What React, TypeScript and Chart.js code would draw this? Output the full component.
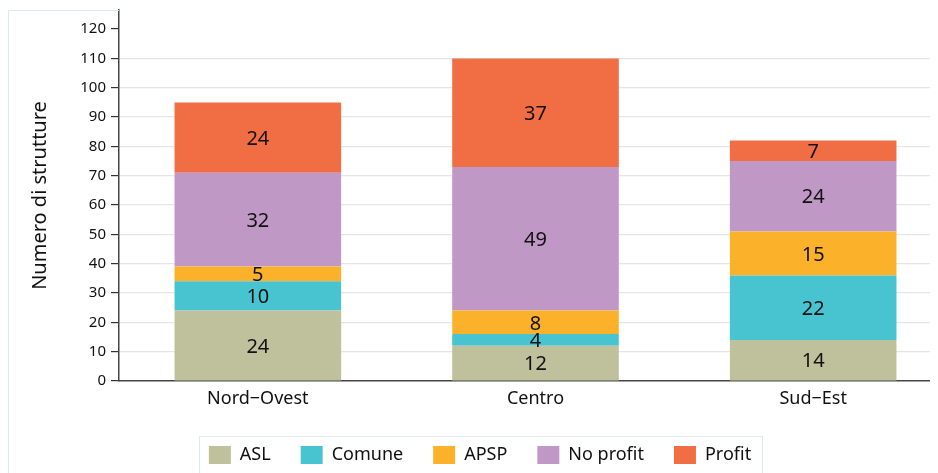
import React, { useEffect, useRef } from "react";
import { Chart, registerables } from "chart.js";

Chart.register(...registerables);

const categories = ["Nord\u2212Ovest", "Centro", "Sud\u2212Est"];
const seriesNames = ["ASL", "Comune", "APSP", "No profit", "Profit"];
const aslValues = [24, 12, 14];
const comuneValues = [10, 4, 22];
const apspValues = [5, 8, 15];
const noProfitValues = [32, 49, 24];
const profitValues = [24, 37, 7];
const seriesColors = ["#bec19b", "#48c3d0", "#fcb12a", "#c098c6", "#f16d43"];
const yMax = 126.5;
const yStep = 10;
const yTitle = "Numero di strutture";

const FONT = "'Noto Sans', 'Open Sans', sans-serif";

const valueLabels = {
  id: "valueLabels",
  afterDatasetsDraw(chart: any) {
    const ctx = chart.ctx;
    ctx.save();
    ctx.font = `20px ${FONT}`;
    ctx.fillStyle = "#111";
    ctx.textAlign = "center";
    ctx.textBaseline = "middle";
    chart.data.datasets.forEach((ds: any, i: number) => {
      const meta = chart.getDatasetMeta(i);
      meta.data.forEach((bar: any, j: number) => {
        const v = ds.data[j];
        if (!v) return;
        const y = (bar.y + bar.base) / 2 + 1.5;
        ctx.fillText(String(v), bar.x, y);
      });
    });
    ctx.restore();
  },
};

const frameAndLegendBox = {
  id: "frameAndLegendBox",
  afterDraw(chart: any) {
    const ctx = chart.ctx;
    ctx.save();
    ctx.strokeStyle = "#dcebeb";
    ctx.lineWidth = 1;
    ctx.beginPath();
    ctx.moveTo(0.5, chart.height);
    ctx.lineTo(0.5, 2.5);
    ctx.lineTo(chart.chartArea.left, 2.5);
    ctx.stroke();
    const boxes = chart.legend && chart.legend.legendHitBoxes;
    if (boxes && boxes.length) {
      let l = Infinity, r = -Infinity, t = Infinity, b = -Infinity;
      boxes.forEach((h: any) => {
        l = Math.min(l, h.left);
        r = Math.max(r, h.left + h.width);
        t = Math.min(t, h.top);
        b = Math.max(b, h.top + h.height);
      });
      ctx.strokeRect(Math.round(l - 10) + 0.5, Math.round(t - 10) + 0.5, Math.round(r - l + 21), Math.round(b - t + 20));
    }
    ctx.restore();
  },
};

export default function App() {
  const ref = useRef<HTMLCanvasElement>(null);
  useEffect(() => {
    document.body.style.overflow = "hidden";
    const valueSets = [aslValues, comuneValues, apspValues, noProfitValues, profitValues];
    const chart = new Chart(ref.current as HTMLCanvasElement, {
      type: "bar",
      data: {
        labels: categories,
        datasets: seriesNames.map((name, i) => ({
          label: name,
          data: valueSets[i],
          backgroundColor: seriesColors[i],
          borderWidth: 0,
          barPercentage: 0.6,
          categoryPercentage: 1,
        })),
      },
      options: {
        responsive: false,
        animation: false,
        layout: { padding: { top: 2, right: 0, left: 0, bottom: 0 } },
        plugins: {
          legend: {
            position: "bottom",
            labels: {
              boxWidth: 22,
              boxHeight: 18,
              padding: 30,
              color: "#111",
              font: { family: FONT, size: 18 },
            },
          },
          tooltip: { enabled: false },
        },
        scales: {
          x: {
            stacked: true,
            grid: { display: false, drawTicks: false },
            border: { color: "#444", width: 1.5 },
            ticks: { color: "#111", padding: 7, font: { family: FONT, size: 18 } },
            afterFit(scale: any) {
              scale.height = 35;
              scale.paddingLeft = 0;
              scale.paddingRight = 0;
            },
          },
          y: {
            stacked: true,
            min: 0,
            max: yMax,
            afterBuildTicks(scale: any) {
              scale.ticks = scale.ticks.filter((t: any) => t.value % yStep === 0);
            },
            ticks: {
              stepSize: yStep,
              color: "#111",
              padding: 5,
              font: { family: FONT, size: 15 },
            },
            grid: {
              color: (c: any) =>
                c.tick && (c.tick.value === 120 || c.tick.value === 0) ? "rgba(0,0,0,0)" : "#e6e6e6",
              tickColor: "#333",
              tickLength: 8,
              lineWidth: 1.2,
            },
            border: { color: "#444", width: 1.5 },
            title: {
              display: true,
              text: yTitle,
              color: "#111",
              font: { family: FONT, size: 20 },
              padding: { top: 20, bottom: 0 },
            },
            afterFit(scale: any) {
              scale.width = 111;
              scale.paddingTop = 0;
              scale.paddingBottom = 0;
            },
          },
        },
      },
      plugins: [valueLabels, frameAndLegendBox],
    } as any);
    return () => chart.destroy();
  }, []);
  return (
    <div style={{ width: 944, height: 466, position: "relative" }}>
      <canvas ref={ref} width={944} height={466} style={{ display: "block" }} />
    </div>
  );
}
